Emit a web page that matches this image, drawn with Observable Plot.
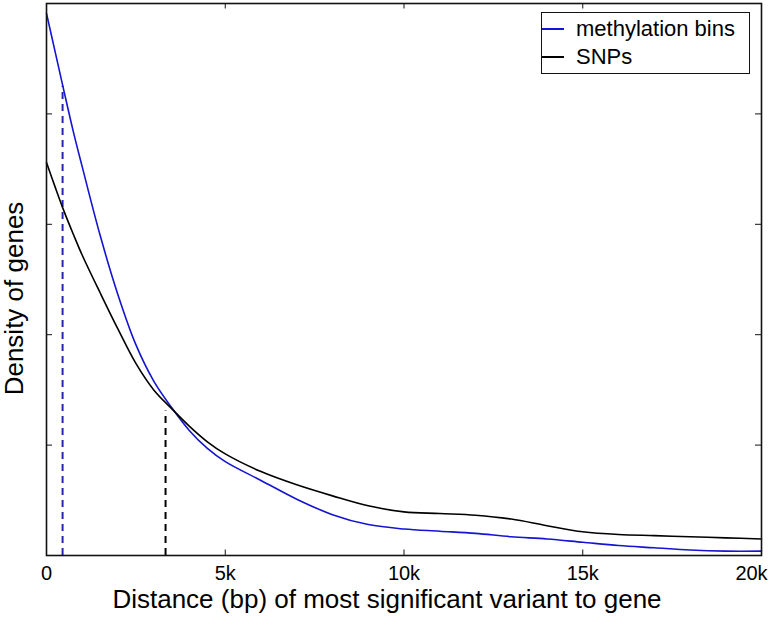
<!DOCTYPE html>
<html><head><meta charset="utf-8">
<script src="https://cdn.jsdelivr.net/npm/d3@7"></script>
<script src="https://cdn.jsdelivr.net/npm/@observablehq/plot@0.6"></script>
<style>
html,body{margin:0;padding:0;background:#fff;}
#wrap{position:relative;width:772px;height:617px;font-family:"Liberation Sans",Arial,sans-serif;}
#legend{position:absolute;left:541px;top:12px;width:207px;height:60px;border:1.5px solid #111;background:#fff;font-size:22px;color:#000;}
#legend .row{position:absolute;left:0;display:flex;align-items:center;}
#legend .sw{display:inline-block;width:22px;height:2px;margin-right:12px;}
</style></head><body><div id="wrap"></div>
<script>
const distance = [0,250,500,750,1000,1500,2000,2500,3000,3500,4000,4500,5000,6000,7000,8000,9000,10000,11000,12000,13000,14000,15000,16000,17000,18000,19000,20000];
const methylation = [4.91,4.55,4.19,3.84,3.52,2.90,2.36,1.91,1.58,1.34,1.13,0.97,0.85,0.68,0.51,0.37,0.28,0.24,0.22,0.20,0.17,0.15,0.12,0.09,0.07,0.05,0.04,0.04];
const snps = [3.56,3.33,3.11,2.91,2.72,2.38,2.05,1.74,1.50,1.33,1.17,1.03,0.92,0.76,0.64,0.54,0.45,0.395,0.38,0.365,0.33,0.27,0.215,0.19,0.18,0.17,0.16,0.15];
const seriesNames = ["methylation bins","SNPs"];
const seriesColors = ["#1414d2","#000000"];
const markerColors = ["#2424b8","#000000"];
const markerX = [450,3330];
const markerTop = [4.25,1.31];
const xTicks = [0,5000,10000,15000,20000];
const xTickLabels = ["0","5k","10k","15k","20k"];
const yTicks = [1,2,3,4];
const xLabel = "Distance (bp) of most significant variant to gene";
const yLabel = "Density of genes";

const rows = [];
distance.forEach((d,i)=>{
  rows.push({series:seriesNames[0], x:d, y:methylation[i]});
  rows.push({series:seriesNames[1], x:d, y:snps[i]});
});
const markers = markerX.map((x,i)=>({series:seriesNames[i], x, top:markerTop[i], color:markerColors[i]}));
const color = {domain: seriesNames, range: seriesColors};
const fmt = d => xTickLabels[xTicks.indexOf(d)];

const chart = Plot.plot({
  width: 772, height: 617,
  marginLeft: 46, marginRight: 11, marginTop: 3, marginBottom: 62,
  style: {fontFamily: '"Liberation Sans", Arial, sans-serif', background: "#fff"},
  x: {domain: [0, 20000]},
  y: {domain: [0, 5]},
  color,
  marks: [
    Plot.ruleX(markers, {x: "x", y1: 0, y2: "top", stroke: d => d.color, strokeDasharray: "7,5", strokeWidth: 2}),
    Plot.line(rows, {x: "x", y: "y", z: "series", stroke: "series", strokeWidth: 1.6, curve: "catmull-rom"}),
    Plot.tickX(xTicks.slice(1,-1), {x: d => d, insetTop: 546.5, stroke: "#111"}),
    Plot.tickX(xTicks.slice(1,-1), {x: d => d, insetBottom: 546.5, stroke: "#111"}),
    Plot.tickY(yTicks, {y: d => d, insetRight: 709, stroke: "#111"}),
    Plot.tickY(yTicks, {y: d => d, insetLeft: 709, stroke: "#111"}),
    Plot.frame({stroke: "#111", strokeWidth: 1.6}),
    Plot.axisX(xTicks.slice(0,-1), {tickSize: 0, tickPadding: 10, fontSize: 20, fill: "#000", tickFormat: fmt, label: null}),
    Plot.axisX(xTicks.slice(-1), {tickSize: 0, tickPadding: 10, fontSize: 20, fill: "#000", tickFormat: fmt, label: null, dx: -10}),
    Plot.axisY({ticks: [], label: null}),
    Plot.text([xLabel], {text: d => d, frameAnchor: "bottom", dy: 44, dx: -17, fontSize: 26, fill: "#000", lineAnchor: "middle"}),
    Plot.text([yLabel], {text: d => d, frameAnchor: "left", dx: -32, dy: 19, rotate: -90, textAnchor: "middle", fontSize: 26, fill: "#000", lineAnchor: "middle"})
  ]
});
const wrap = document.getElementById("wrap");
wrap.appendChild(chart);

const legend = document.createElement("div");
legend.id = "legend";
seriesNames.forEach((name,i)=>{
  const row = document.createElement("div");
  row.className = "row";
  row.style.top = (i === 0 ? 3 : 31) + "px";
  const sw = document.createElement("span");
  sw.className = "sw";
  sw.style.background = seriesColors[i];
  const t = document.createElement("span");
  t.textContent = name;
  row.appendChild(sw); row.appendChild(t);
  legend.appendChild(row);
});
wrap.appendChild(legend);
</script>
</body></html>
